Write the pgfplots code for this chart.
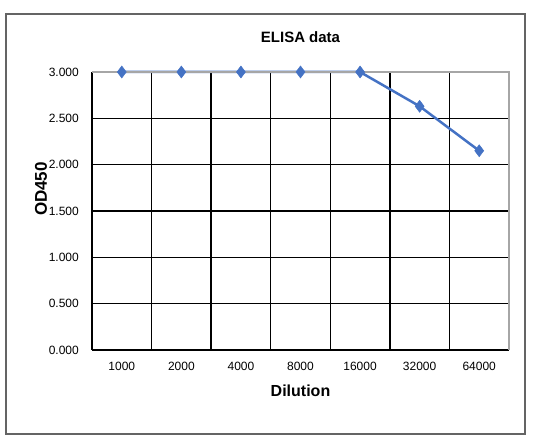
\documentclass[border=0pt]{standalone}
\usepackage{fontspec}
\setmainfont{Liberation Sans}
\usepackage{pgfplots}
\pgfplotsset{compat=1.18}
\definecolor{exblue}{RGB}{68,114,196}
\definecolor{frame}{RGB}{100,100,100}
\begin{document}
\begin{tikzpicture}[x=1pt,y=1pt]
\path[use as bounding box] (0,0) rectangle (534,446);
\draw[frame, line width=2pt] (6,12) rectangle (525,432);
\begin{axis}[
  at={(92pt,96pt)}, anchor=south west,
  scale only axis, width=417pt, height=278pt,
  xmin=-0.5, xmax=6.5, ymin=0, ymax=3,
  xtick={0,...,6},
  xticklabels={1000,2000,4000,8000,16000,32000,64000},
  minor xtick={0.5,1.5,...,5.5},
  ytick={0,0.5,...,3},
  major tick length=0pt, minor tick length=0pt,
  ymajorgrids, xminorgrids,
  major grid style={black, line width=1.5pt},
  minor grid style={black, line width=1.5pt},
  axis x line*=bottom, axis y line*=left,
  axis line style={black, line width=1.5pt, -},
  /pgf/number format/assume math mode=true,
  yticklabel={\pgfmathprintnumber[fixed,zerofill,precision=3]{\tick}},
  y tick label style={font=\fontsize{12}{14}\selectfont, inner sep=0pt, xshift=-13pt},
  x tick label style={font=\fontsize{12}{14}\selectfont, inner sep=0pt, yshift=-12pt},
  title={ELISA data},
  title style={at={([yshift=29pt]axis description cs:0.5,1)}, anchor=center, font=\bfseries\fontsize{15}{17}\selectfont},
  xlabel={Dilution},
  every axis x label/.style={at={([yshift=-41pt]axis description cs:0.5,0)}, anchor=center, font=\bfseries\fontsize{16}{18}\selectfont},
  ylabel={OD450},
  every axis y label/.style={at={([xshift=-51pt]axis description cs:0,0.579)}, rotate=90, anchor=center, font=\bfseries\fontsize{17}{19}\selectfont},
  clip=false,
]
\addplot[exblue, line width=2.5pt, mark=diamond*, mark size=6pt, mark options={fill=exblue, draw=exblue, line width=0.5pt}]
  coordinates {(0,3.0) (1,3.0) (2,3.0) (3,3.0) (4,3.0) (5,2.63) (6,2.15)};
\draw[gray!70, line width=1.2pt] (rel axis cs:0,1) -- (rel axis cs:1,1) -- (rel axis cs:1,0);
\end{axis}
\end{tikzpicture}
\end{document}
